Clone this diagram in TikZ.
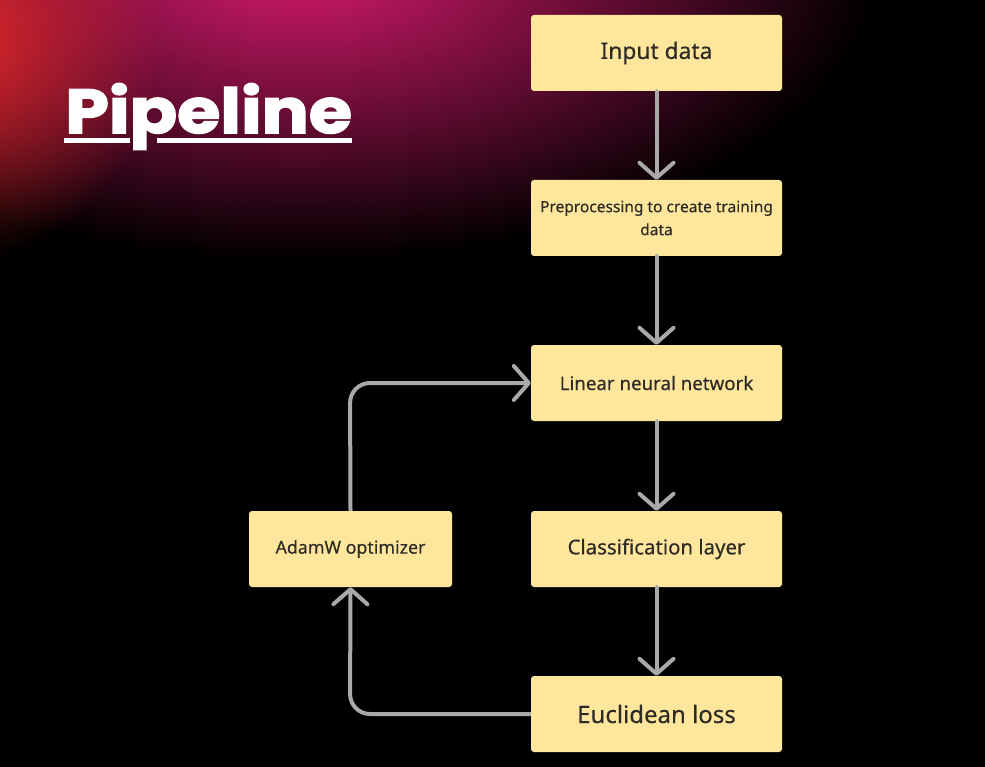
\documentclass[tikz,border=0pt]{standalone}
\usepackage{fontspec}
\setmainfont{Noto Sans}[FakeBold=0.35]
\newfontfamily\titlefont{Poppins}[BoldFeatures={FakeBold=2.5,FakeStretch=1.13}]
\usetikzlibrary{arrows.meta,fadings}
\definecolor{boxfill}{HTML}{FEE79D}
\definecolor{boxtext}{HTML}{2E2A26}
\definecolor{conn}{HTML}{A9A9A9}
\definecolor{magentaglow}{HTML}{D81B6E}
\definecolor{redglow}{HTML}{E2282A}
\tikzfading[name=softglow, inner color=transparent!0, outer color=transparent!100]
\tikzset{
  stepbox/.style={draw=none, fill=boxfill, rounded corners=3pt, minimum width=251pt, minimum height=76pt, text=boxtext, align=center, inner sep=0pt},
  flow/.style={draw=conn, line width=4pt, line cap=round, -{Straight Barb[length=15pt,width=34pt,round]}},
  feed/.style={draw=conn, line width=4pt, rounded corners=20pt, -{Straight Barb[length=15pt,width=34pt,round]}}
}
\begin{document}
\begin{tikzpicture}[x=1pt,y=-1pt]
\useasboundingbox (0,0) rectangle (985,767);
\fill[black] (0,0) rectangle (985,767);
\begin{scope}
\clip (0,0) rectangle (985,767);
\fill[magentaglow, path fading=softglow, fit fading=true] (300,-40) ellipse [x radius=580, y radius=300];
\fill[redglow, path fading=softglow, fit fading=true] (-40,40) ellipse [x radius=200, y radius=220];
\end{scope}
% title
\node[anchor=base west, text=white, inner sep=0pt] (title) at (65,133) {\titlefont\bfseries\fontsize{62}{62}\selectfont Pipeline};
\fill[white] (64,138) rectangle (130,143);
\fill[white] (157,138) rectangle (352,143);
% boxes
\node[stepbox, font=\fontsize{22.8}{26}\selectfont] (input) at (656.5,53) {Input data};
\node[stepbox, font=\fontsize{15.5}{23}\selectfont] (prep) at (656.5,218) {Preprocessing to create training\\data};
\node[stepbox, font=\fontsize{18.7}{22}\selectfont] (lin) at (656.5,383) {Linear neural network};
\node[stepbox, font=\fontsize{20.4}{24}\selectfont] (cls) at (656.5,549) {Classification layer};
\node[stepbox, font=\fontsize{24}{28}\selectfont] (loss) at (656.5,714) {Euclidean loss};
\node[stepbox, minimum width=203pt, font=\fontsize{17.8}{21}\selectfont] (adam) at (350.5,549) {AdamW optimizer};
% connectors
\draw[flow] (input) -- (prep);
\draw[flow] (prep) -- (lin);
\draw[flow] (lin) -- (cls);
\draw[flow] (cls) -- (loss);
\coordinate (c1) at (350,714);
\coordinate (c2) at (350,383);
\draw[feed] (loss.west) -- (c1) -- (adam.south);
\draw[feed] (adam.north) -- (c2) -- (lin.west);
\end{tikzpicture}
\end{document}
